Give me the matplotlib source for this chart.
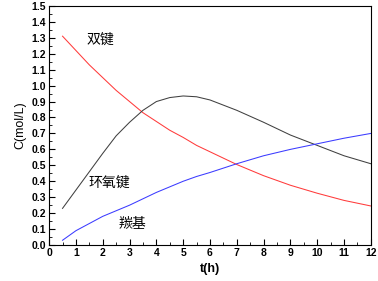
import matplotlib
matplotlib.use('Agg')
import matplotlib.pyplot as plt
from matplotlib.ticker import MultipleLocator

plt.rcParams['font.family'] = ['Liberation Sans', 'DejaVu Sans']

t = [0.5, 1, 1.5, 2, 2.5, 3, 3.5, 4, 4.5, 5, 5.5, 6, 7, 8, 9, 10, 11, 12]
double_bond = [1.31, 1.22, 1.13, 1.05, 0.97, 0.90, 0.83, 0.775, 0.72, 0.675, 0.625, 0.585, 0.505, 0.435, 0.375, 0.325, 0.28, 0.245]
epoxy = [0.23, 0.345, 0.46, 0.575, 0.685, 0.77, 0.845, 0.90, 0.925, 0.935, 0.93, 0.91, 0.845, 0.77, 0.69, 0.625, 0.56, 0.51]
carbonyl = [0.03, 0.09, 0.135, 0.18, 0.215, 0.25, 0.29, 0.33, 0.365, 0.40, 0.43, 0.455, 0.51, 0.56, 0.60, 0.635, 0.67, 0.70]

fig = plt.figure(figsize=(3.78, 2.81), dpi=100)
ax = fig.add_axes([0.130, 0.128, 0.851, 0.851])

ax.plot(t, double_bond, color='#ff3b3b', lw=0.75)
ax.plot(t, epoxy, color='#404040', lw=0.75)
ax.plot(t, carbonyl, color='#3b3bff', lw=0.75)

cjk = ['Noto Sans CJK SC', 'DejaVu Sans']
ax.text(1.4, 1.29, '双键', family=cjk, fontsize=10, va='center')
ax.text(1.45, 0.39, '环氧键', family=cjk, fontsize=10, va='center')
ax.text(2.6, 0.13, '羰基', family=cjk, fontsize=10, va='center')

ax.set_xlim(0, 12)
ax.set_ylim(0, 1.5)
ax.xaxis.set_major_locator(MultipleLocator(1))
ax.xaxis.set_minor_locator(MultipleLocator(0.5))
ax.yaxis.set_major_locator(MultipleLocator(0.1))
ax.yaxis.set_minor_locator(MultipleLocator(0.05))
ax.yaxis.set_major_formatter(matplotlib.ticker.FormatStrFormatter('%.1f'))
ax.tick_params(which='both', direction='in', top=False, right=False)
ax.tick_params(which='major', length=4, labelsize=7.5, pad=2)
ax.tick_params(which='minor', length=2)
for lab in ax.get_xticklabels() + ax.get_yticklabels():
    lab.set_fontweight('bold')

ax.set_xlabel('t(h)', fontsize=9, fontweight='bold', labelpad=4)
ax.set_ylabel('C(mol/L)', fontsize=9, labelpad=4)

fig.savefig('out.png', dpi=100)
